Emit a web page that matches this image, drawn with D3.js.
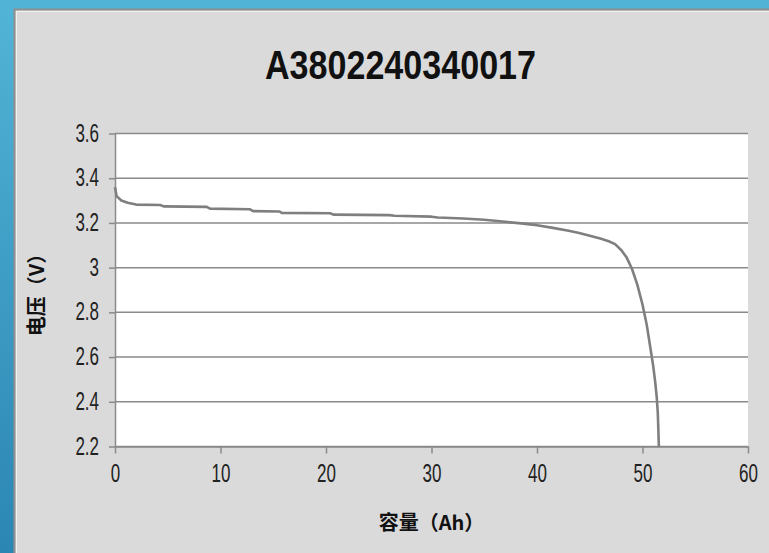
<!DOCTYPE html>
<html>
<head>
<meta charset="utf-8">
<script src="https://cdn.jsdelivr.net/npm/d3@7"></script>
<style>
  body { margin: 0; background: linear-gradient(to bottom, #52b4d6, #2b86b3); }
  svg { display: block; }
</style>
</head>
<body>
<div id="holder"></div>
<script>
// data
var capacity = [0, 0.15, 0.6, 1.2, 2, 4.3, 4.6, 8.7, 9.0, 12.8, 13.1, 15.6, 15.8, 20.4, 20.7, 26, 26.5, 30, 30.6,
                33, 35, 37, 38.5, 40, 41.5, 43, 44, 45, 46, 46.8, 47.4, 48, 48.5, 49, 49.5, 50, 50.4, 50.7,
                51, 51.2, 51.35, 51.45, 51.5, 51.55];
var voltage = [3.36, 3.32, 3.30, 3.29, 3.282, 3.28, 3.274, 3.272, 3.264, 3.261, 3.253, 3.251, 3.245, 3.243, 3.237,
               3.235, 3.232, 3.228, 3.224, 3.22, 3.214, 3.205, 3.198, 3.19, 3.178, 3.165, 3.155, 3.143, 3.13,
               3.118, 3.105, 3.078, 3.045, 2.995, 2.925, 2.835, 2.745, 2.655, 2.565, 2.49, 2.42, 2.35, 2.28, 2.2];
var xTicks = [0, 10, 20, 30, 40, 50, 60];
var yTicks = [2.2, 2.4, 2.6, 2.8, 3.0, 3.2, 3.4, 3.6];
var yTickLabels = ["2.2", "2.4", "2.6", "2.8", "3", "3.2", "3.4", "3.6"];
var title = "A3802240340017";
var xTitle = "容量（Ah）";
var yTitle = "电压（V）";

var W = 769, H = 553;
var margin = {top: 133.5, right: 21, bottom: 106.5, left: 115},
    width = W - margin.left - margin.right,
    height = H - margin.top - margin.bottom;

var root = d3.select("#holder").append("svg")
    .attr("width", W)
    .attr("height", H);

// grey panel inside the blue frame
root.append("rect")
    .attr("x", 14.5).attr("y", 9.5)
    .attr("width", W).attr("height", H)
    .attr("fill", "#dadada")
    .attr("stroke", "#8f8f8f")
    .attr("stroke-width", 2);
root.append("rect")
    .attr("x", 16.5).attr("y", 11.5)
    .attr("width", W).attr("height", H)
    .attr("fill", "none")
    .attr("stroke", "#f2f2f2")
    .attr("stroke-width", 1);

root.append("text")
    .attr("x", 400.5).attr("y", 79)
    .attr("text-anchor", "middle")
    .attr("font-family", "Liberation Sans, Arial, sans-serif")
    .attr("font-weight", "bold")
    .attr("font-size", 41)
    .attr("textLength", 271)
    .attr("lengthAdjust", "spacingAndGlyphs")
    .attr("fill", "#111")
    .text(title);

var svg = root.append("g")
    .attr("transform", "translate(" + margin.left + "," + margin.top + ")");

var x = d3.scaleLinear().domain([0, 60]).range([0, width]);
var y = d3.scaleLinear().domain([2.2, 3.6]).range([height, 0]);

// white plot area
svg.append("rect")
    .attr("width", width).attr("height", height)
    .attr("fill", "#fff");

// horizontal gridlines
svg.append("g")
    .selectAll("line")
    .data(yTicks)
    .enter()
    .append("line")
    .attr("x1", 0).attr("x2", width)
    .attr("y1", d => y(d)).attr("y2", d => y(d))
    .attr("stroke", "#8a8a8a")
    .attr("stroke-width", 1.5);

// axes
var xAxis = svg.append("g")
    .attr("transform", "translate(0," + height + ")")
    .call(d3.axisBottom(x).tickValues(xTicks).tickSize(7).tickSizeOuter(0));

var yAxis = svg.append("g")
    .call(d3.axisLeft(y).tickValues(yTicks).tickSize(6).tickSizeOuter(0)
      .tickFormat((d, i) => yTickLabels[i]));

[xAxis, yAxis].forEach(function(a) {
  a.select(".domain").attr("stroke", "#8a8a8a").attr("stroke-width", 1.5);
  a.selectAll(".tick line").attr("stroke", "#8a8a8a").attr("stroke-width", 1.5);
  a.selectAll("text")
    .attr("font-family", "Liberation Sans, Arial, sans-serif")
    .attr("font-size", 25)
    .attr("fill", "#222");
});
xAxis.selectAll("text")
    .attr("y", 18)
    .attr("transform", "scale(0.68,1)");
yAxis.selectAll("text")
    .attr("x", -16 / 0.68)
    .attr("dy", "0.3em")
    .attr("transform", "scale(0.68,1)");

// discharge curve
var pts = capacity.map((c, i) => [c, voltage[i]]);
svg.append("path")
    .datum(pts)
    .attr("fill", "none")
    .attr("stroke", "#7f7f7f")
    .attr("stroke-width", 2.6)
    .attr("stroke-linejoin", "round")
    .attr("d", d3.line().x(d => x(d[0])).y(d => y(d[1])));

// axis titles
root.append("text")
    .attr("x", margin.left + width / 2).attr("y", 530)
    .attr("text-anchor", "middle")
    .attr("font-family", "Noto Sans CJK SC, sans-serif")
    .attr("font-weight", "bold")
    .attr("font-size", 20)
    .attr("fill", "#111")
    .text(xTitle);

root.append("text")
    .attr("transform", "translate(44," + (margin.top + height / 2) + ") rotate(-90)")
    .attr("text-anchor", "middle")
    .attr("font-family", "Noto Sans CJK SC, sans-serif")
    .attr("font-weight", "bold")
    .attr("font-size", 20)
    .attr("fill", "#111")
    .text(yTitle);
</script>
</body>
</html>
